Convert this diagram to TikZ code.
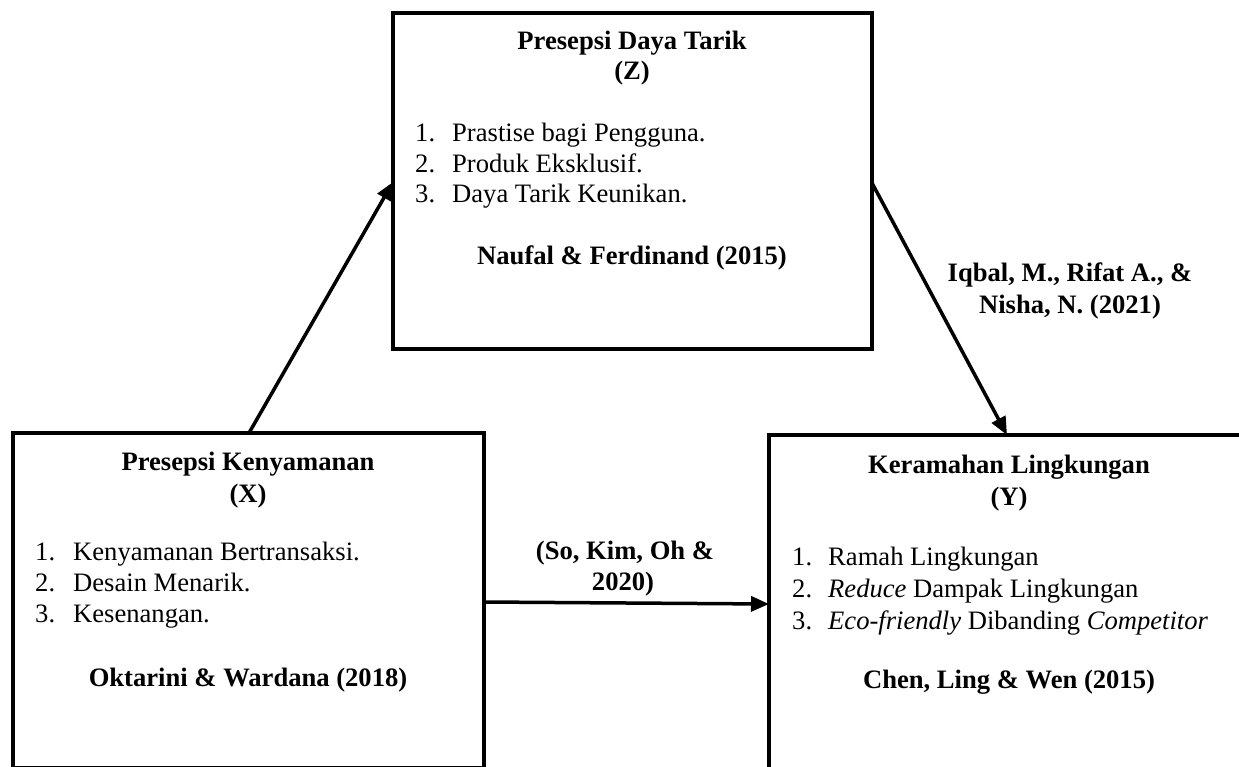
\documentclass[tikz,border=0pt]{standalone}
\usepackage{fontspec}
\setmainfont{Liberation Serif}
\usetikzlibrary{arrows.meta,calc}
\tikzset{
  box/.style={draw, line width=4pt, rectangle, outer sep=0pt, inner sep=0pt, anchor=north west},
  ttl/.style={font=\bfseries, anchor=base, inner sep=0pt},
  num/.style={anchor=base west, inner sep=0pt},
  itm/.style={anchor=base west, inner sep=0pt},
  arr/.style={line width=3.5pt, -{Triangle[length=18pt,width=15pt]}},
}
\begin{document}
\begin{tikzpicture}[x=1pt,y=1pt]
\fontsize{26.6}{30.6}\selectfont
\path[use as bounding box, clip] (0,0) rectangle (1239,-767);
% boxes
\node[box, minimum width=479pt, minimum height=336pt] (Z) at (393,-13) {};
\node[box, minimum width=471pt, minimum height=335pt] (X) at (13,-433) {};
\node[box, minimum width=480pt, minimum height=370pt] (Y) at (769,-435) {};
% Z content
\node[ttl] (zt1) at (632,-50) {Presepsi Daya Tarik};
\node[ttl] (zt2) at (632,-80) {(Z)};
\node[num] (zn1) at (415,-142) {1.};
\node[itm] (zi1) at (452,-142) {Prastise bagi Pengguna.};
\node[num] (zn2) at (415,-173) {2.};
\node[itm] (zi2) at (452,-173) {Produk Eksklusif.};
\node[num] (zn3) at (415,-203) {3.};
\node[itm] (zi3) at (452,-203) {Daya Tarik Keunikan.};
\node[ttl] (zc) at (632,-265) {Naufal \& Ferdinand (2015)};
% X content
\node[ttl] (xt1) at (248,-470) {Presepsi Kenyamanan};
\node[ttl] (xt2) at (248,-502) {(X)};
\node[num] (xn1) at (35,-560) {1.};
\node[itm] (xi1) at (73,-560) {Kenyamanan Bertransaksi.};
\node[num] (xn2) at (35,-591) {2.};
\node[itm] (xi2) at (73,-591) {Desain Menarik.};
\node[num] (xn3) at (35,-622) {3.};
\node[itm] (xi3) at (73,-622) {Kesenangan.};
\node[ttl] (xc) at (248,-686) {Oktarini \& Wardana (2018)};
% Y content
\node[ttl] (yt1) at (1009,-473) {Keramahan Lingkungan};
\node[ttl] (yt2) at (1009,-505) {(Y)};
\node[num] (yn1) at (792,-565) {1.};
\node[itm] (yi1) at (828,-565) {Ramah Lingkungan};
\node[num] (yn2) at (792,-597) {2.};
\node[itm] (yi2) at (828,-597) {\textit{Reduce} Dampak Lingkungan};
\node[num] (yn3) at (792,-629) {3.};
\node[itm] (yi3) at (828,-629) {\textit{Eco-friendly} Dibanding \textit{Competitor}};
\node[ttl] (yc) at (1009,-688) {Chen, Ling \& Wen (2015)};
% connector labels
\node[ttl] (l1a) at (625,-559) {(So, Kim, Oh \&};
\node[ttl] (l1b) at (623,-590) {2020)};
\node[ttl] (l2a) at (1070,-282) {Iqbal, M., Rifat A., \&};
\node[ttl] (l2b) at (1070,-313) {Nisha, N. (2021)};
% connectors
\draw[arr] ([xshift=236pt]X.north west) -- ([yshift=-169pt]Z.north west);
\draw[arr] ([yshift=-170pt]Z.north east) -- ([xshift=238pt]Y.north west);
\draw[arr] ([yshift=-169pt]X.north east) -- ([yshift=-169pt]Y.north west);
\end{tikzpicture}
\end{document}
